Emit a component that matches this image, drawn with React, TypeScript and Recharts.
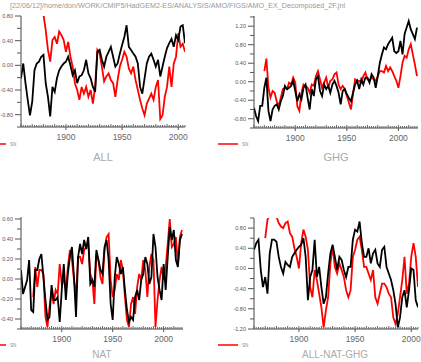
import { LineChart, Line, XAxis, YAxis } from "recharts";

const STEP = 2;
const FONT = "'Liberation Sans', Arial, sans-serif";
const HEADER = "[22/06/12]/home/don/WORK/CMIP5/HadGEM2-ES/ANALYSIS/AMO/FIGS/AMO_EX_Decomposed_2F.jnl";

// ALL
const ALL_START = 1860;
const ALL_BLACK = [
  -0.21, 0.03, -0.29, -0.56, -0.81, -0.59, -0.08, 0.03, 0.06, 0.14,
  0.17, -0.29, -0.51, -0.83, -0.35, -0.43, -0.21, -0.08, -0.02, 0.03,
  0.06, 0.14, 0.0, -0.16, -0.08, -0.29, -0.18, -0.16, -0.08, 0.09,
  -0.13, -0.21, -0.35, -0.43, 0.22, 0.25, 0.09, -0.02, 0.14, 0.22,
  0.3, 0.14, -0.02, 0.03, 0.19, 0.33, 0.46, 0.65, 0.3, 0.25,
  0.19, 0.14, 0.03, -0.35, -0.46, -0.21, 0.03, 0.14, 0.19, 0.09,
  -0.02, 0.09, -0.18, -0.02, 0.14, 0.28, 0.36, 0.43, 0.3, 0.49,
  0.41, 0.63, 0.65, 0.36,
];
const ALL_RED_START = 1880;
const ALL_RED = [
  0.82, 0.57, 0.25, 0.06, 0.41, 0.46, 0.35, 0.55, 0.49, 0.41,
  0.22, 0.38, 0.14, -0.02, -0.29, -0.4, -0.56, -0.35, -0.46, -0.35,
  -0.51, -0.4, -0.62, -0.35, 0.25, 0.19, -0.02, -0.26, -0.18, -0.13,
  -0.24, -0.29, -0.51, -0.24, -0.02, 0.09, 0.22, 0.14, -0.05, -0.13,
  -0.02, -0.24, -0.4, -0.56, -0.7, -0.81, -0.62, -0.54, -0.46, -0.56,
  -0.35, -0.24, -0.87, -0.81, -0.51, -0.35, -0.02, -0.35, 0.03, 0.14,
  0.52, 0.3, 0.35, 0.22,
];

// GHG
const GHG_START = 1860;
const GHG_BLACK = [
  -0.56, -0.74, -0.85, -0.52, -0.52, -0.13, 0.09, -0.63, -0.85, -0.6,
  -0.52, -0.49, -0.6, -0.42, -0.31, -0.09, -0.16, -0.13, -0.09, 0.02,
  -0.2, -0.42, -0.27, -0.38, -0.13, -0.06, -0.35, -0.6, -0.16, -0.31,
  0.05, 0.12, -0.2, -0.31, -0.06, -0.16, -0.09, -0.24, -0.06, 0.02,
  -0.09, -0.24, -0.49, -0.2, -0.16, -0.27, -0.35, -0.42, -0.24, -0.06,
  0.02, -0.16, 0.05, -0.06, 0.09, 0.09, -0.02, 0.16, 0.09, -0.13,
  0.12, 0.41, 0.59, 0.74, 0.7, 0.81, 0.88, 0.95, 0.66, 0.62,
  0.66, 0.88, 0.59, 1.03, 1.17, 1.31, 1.13, 1.03, 0.92, 1.17,
];
const GHG_RED_START = 1870;
const GHG_RED = [
  0.23, 0.5, -0.13, -0.34, -0.2, -0.24, -0.42, -0.53, -0.34, -0.16,
  -0.13, -0.16, -0.02, -0.06, 0.09, -0.02, -0.53, -0.63, -0.24, -0.06,
  -0.09, -0.13, -0.24, -0.06, -0.09, 0.12, 0.23, 0.05, -0.13, -0.02,
  0.09, -0.13, 0.02, 0.05, 0.16, 0.2, -0.06, -0.16, -0.09, -0.16,
  -0.31, -0.45, -0.6, -0.27, 0.05, 0.02, 0.02, -0.02, 0.12, 0.2,
  0.05, 0.02, 0.09, 0.05, 0.02, 0.12, 0.23, 0.23, 0.2, 0.34,
  0.23, 0.31, 0.23, 0.12, 0.02, -0.13, 0.12, 0.41, 0.56, 0.52,
  0.7, 0.81, 0.59, 0.37, 0.12,
];

// NAT
const NAT_START = 1860;
const NAT_BLACK = [
  0.09, -0.15, -0.08, -0.01, 0.19, -0.31, -0.33, 0.09, 0.09, 0.2,
  0.25, 0.02, -0.21, -0.41, -0.38, -0.06, -0.21, -0.21, -0.18, -0.43,
  -0.11, 0.15, -0.21, 0.05, 0.22, 0.32, 0.02, -0.38, 0.22, 0.35,
  0.25, 0.39, 0.3, 0.42, -0.05, -0.01, -0.08, 0.29, 0.19, 0.09,
  0.05, 0.32, 0.39, 0.19, -0.25, -0.41, 0.02, 0.22, 0.15, 0.05,
  0.12, -0.11, -0.31, -0.43, -0.38, -0.41, -0.18, -0.11, -0.21, -0.01,
  0.05, 0.22, 0.15, -0.05, 0.02, 0.45, 0.32, 0.02, -0.11, -0.21,
  0.15, -0.11, 0.22, 0.52, 0.39, 0.49, 0.19, 0.12, 0.39, 0.45,
];
const NAT_RED_START = 1872;
const NAT_RED = [
  -0.18, 0.12, -0.08, 0.09, 0.09, 0.05, -0.38, -0.48, -0.28, -0.11,
  -0.25, -0.11, -0.15, 0.15, -0.05, -0.01, -0.11, 0.12, 0.29, 0.19,
  -0.01, -0.18, 0.22, 0.22, 0.15, 0.29, 0.32, 0.37, 0.05, -0.01,
  -0.25, 0.25, 0.19, 0.02, -0.05, 0.29, 0.42, 0.45, -0.01, -0.18,
  -0.11, 0.05, -0.01, 0.19, 0.09, -0.18, -0.41, -0.48, -0.25, -0.18,
  -0.35, -0.08, 0.05, -0.01, 0.19, 0.09, -0.18, 0.12, 0.25, 0.19,
  -0.48, -0.21, -0.01, 0.12, -0.01, 0.12, 0.35, 0.6, 0.32, 0.35,
  0.42, 0.15, 0.42, 0.49,
];

// ALL-NAT-GHG
const RES_START = 1860;
const RES_BLACK = [
  0.37, 0.5, 0.57, -0.03, -0.37, -0.17, -0.5, 0.3, 0.57, 0.57,
  0.53, 0.23, 0.03, -0.1, 0.13, 0.07, 0.03, 0.23, 0.3, 0.37,
  0.43, 0.47, 0.6, 0.23, -0.63, -0.17, -0.03, 0.57, -0.17, 0.03,
  -0.37, -0.7, -0.57, -0.1, 0.3, 0.47, 0.23, -0.03, 0.23, 0.17,
  -0.03, -0.17, 0.03, 0.03, 0.57, 0.77, 0.73, 0.93, 0.5, 0.23,
  0.23, 0.4, 0.1, 0.3, 0.37, 0.1, 0.03, 0.37, 0.43, 0.03,
  -0.1, -0.23, -0.43, -0.7, -1.17, -0.97, -0.57, -0.43, -0.77, -0.43,
  0.0, -0.03, -0.63, -0.77,
];
const RES_RED_START = 1870;
const RES_RED = [
  0.6, 0.97, 1.05, 1.05, 1.1, 1.03, 0.9, 0.83, 0.8, 0.9,
  0.93, 0.7, 0.63, 0.4, 0.23, 0.0, 0.5, 0.77, 0.63, 0.37,
  -0.37, -0.57, -0.03, -0.23, -0.5, -0.77, -1.17, -0.83, -0.57, 0.1,
  0.43, 0.03, -0.1, 0.1, -0.03, -0.17, -0.43, -0.57, -0.43, 0.23,
  0.37, 0.57, 0.63, 0.37, 0.03, 0.03, -0.1, -0.23, -0.03, -0.57,
  -0.7, -0.5, -0.3, -0.3, -0.37, -0.5, -0.57, -0.97, -1.1, -0.9,
  -0.57, -0.23, 0.23, -0.5, -0.3, 0.23, 0.5, 0.23, -0.37,
];

type Row = { year: number; black: number | null; red: number | null };

function buildRows(start: number, black: number[], redStart: number, red: number[]): Row[] {
  return black.map((b, i) => {
    const year = start + i * STEP;
    const j = (year - redStart) / STEP;
    return { year, black: b, red: j >= 0 && j < red.length ? red[j] : null };
  });
}

function range(a: number, b: number, s: number) {
  const out: number[] = [];
  for (let v = a; v <= b + 1e-9; v += s) out.push(Math.round(v * 100) / 100);
  return out;
}

const isMult = (v: number, s: number) => Math.abs(v / s - Math.round(v / s)) < 1e-6;

type PanelProps = {
  px: number;
  py: number;
  pw: number;
  ph: number;
  rows: Row[];
  xDomain: [number, number];
  yDomain: [number, number];
  yMinor: number;
  yLabel: number;
};

function Panel({ px, py, pw, ph, rows, xDomain, yDomain, yMinor, yLabel }: PanelProps) {
  const xTicks = range(Math.ceil(xDomain[0] / 2) * 2, xDomain[1], 2);
  const yTicks = range(Math.ceil(yDomain[0] / yMinor - 1e-6) * yMinor, yDomain[1], yMinor);

  const bottomTick = (p: any) => {
    const { x, y, payload } = p;
    const v = payload.value;
    const big = v % 50 === 0;
    return (
      <g>
        <line x1={x} x2={x} y1={y} y2={y - (v % 10 === 0 ? 3 : 2)} stroke="#666" />
        {big && <line x1={x} x2={x} y1={y} y2={y + 3} stroke="#555" />}
        {big && (
          <text x={x} y={y + 13} textAnchor="middle" fontSize={8.5} fill="#666" fontFamily={FONT}>
            {v}
          </text>
        )}
      </g>
    );
  };
  const topTick = (p: any) => {
    const { x, y, payload } = p;
    const v = payload.value;
    return (
      <g>
        <line x1={x} x2={x} y1={y} y2={y + (v % 10 === 0 ? 3 : 2)} stroke="#999" />
        {v % 50 === 0 && <line x1={x} x2={x} y1={y} y2={y - 3} stroke="#999" />}
      </g>
    );
  };
  const leftTick = (p: any) => {
    const { x, y, payload } = p;
    const v = payload.value;
    const lab = isMult(v, yLabel);
    return (
      <g>
        <line x1={x - (lab ? 6 : 4)} x2={x} y1={y} y2={y} stroke="#555" />
        {lab && (
          <text x={x - 8} y={y + 2} textAnchor="end" fontSize={5.5} fill="#555" fontFamily={FONT}>
            {v.toFixed(2)}
          </text>
        )}
      </g>
    );
  };
  const rightTick = (p: any) => {
    const { x, y, payload } = p;
    const lab = isMult(payload.value, yLabel);
    return (
      <g>
        <line x1={x} x2={x + (lab ? 5 : 3)} y1={y} y2={y} stroke="#aaa" />
      </g>
    );
  };

  return (
    <div style={{ position: "absolute", left: px - 30, top: py - 6 }}>
      <LineChart
        width={pw + 30 + 8}
        height={ph + 6 + 20}
        data={rows}
        margin={{ top: 6, right: 8, bottom: 0, left: 0 }}
      >
        <XAxis
          xAxisId="b"
          dataKey="year"
          type="number"
          domain={xDomain}
          allowDataOverflow
          ticks={xTicks}
          interval={0}
          height={20}
          tickSize={0}
          tickMargin={0}
          tickLine={false}
          tick={bottomTick}
          axisLine={{ stroke: "#444" }}
        />
        <XAxis
          xAxisId="t"
          orientation="top"
          dataKey="year"
          type="number"
          domain={xDomain}
          allowDataOverflow
          ticks={xTicks}
          interval={0}
          height={0}
          tickSize={0}
          tickMargin={0}
          tickLine={false}
          tick={topTick}
          axisLine={{ stroke: "#999" }}
        />
        <YAxis
          yAxisId="l"
          type="number"
          domain={yDomain}
          allowDataOverflow
          ticks={yTicks}
          interval={0}
          width={30}
          tickSize={0}
          tickMargin={0}
          tickLine={false}
          tick={leftTick}
          axisLine={{ stroke: "#444" }}
        />
        <YAxis
          yAxisId="r"
          orientation="right"
          type="number"
          domain={yDomain}
          allowDataOverflow
          ticks={yTicks}
          interval={0}
          width={0}
          tickSize={0}
          tickMargin={0}
          tickLine={false}
          tick={rightTick}
          axisLine={{ stroke: "#ccc", strokeWidth: 2 }}
        />
        <Line
          xAxisId="b"
          yAxisId="l"
          dataKey="red"
          stroke="#ff0000"
          strokeWidth={1.8}
          dot={false}
          type="linear"
          isAnimationActive={false}
        />
        <Line
          xAxisId="b"
          yAxisId="l"
          dataKey="black"
          stroke="#000"
          strokeWidth={1.8}
          dot={false}
          type="linear"
          isAnimationActive={false}
        />
      </LineChart>
    </div>
  );
}

function Legend({ x1, x2, y }: { x1: number; x2: number; y: number }) {
  return (
    <g>
      <line x1={x1} x2={x2} y1={y} y2={y} stroke="#ff0000" strokeWidth={1.5} />
      <text x={x2 + 4} y={y + 2} fontSize={4.5} fill="#888" fontFamily={FONT}>
        SN
      </text>
    </g>
  );
}

export default function App() {
  const allRows = buildRows(ALL_START, ALL_BLACK, ALL_RED_START, ALL_RED);
  const ghgRows = buildRows(GHG_START, GHG_BLACK, GHG_RED_START, GHG_RED);
  const natRows = buildRows(NAT_START, NAT_BLACK, NAT_RED_START, NAT_RED);
  const resRows = buildRows(RES_START, RES_BLACK, RES_RED_START, RES_RED);

  return (
    <div
      style={{
        position: "absolute",
        left: 0,
        top: 0,
        width: 421,
        height: 362,
        background: "#fff",
        overflow: "hidden",
      }}
    >
      <Panel px={21} py={16} pw={164} ph={111} rows={allRows} xDomain={[1860, 2006]} yDomain={[-1.0, 0.8]} yMinor={0.2} yLabel={0.4} />
      <Panel px={254} py={16} pw={164} ph={112} rows={ghgRows} xDomain={[1860, 2019]} yDomain={[-1.0, 1.42]} yMinor={0.2} yLabel={0.4} />
      <Panel px={21} py={217} pw={162} ph={112} rows={natRows} xDomain={[1860, 2019]} yDomain={[-0.5, 0.62]} yMinor={0.1} yLabel={0.2} />
      <Panel px={254} py={218} pw={164} ph={111} rows={resRows} xDomain={[1860, 2006]} yDomain={[-1.2, 1.0]} yMinor={0.2} yLabel={0.4} />
      <svg width={421} height={362} style={{ position: "absolute", left: 0, top: 0, pointerEvents: "none" }}>
        <text x={10} y={8} fontSize={7.5} fill="#999" fontFamily={FONT} textLength={335} lengthAdjust="spacingAndGlyphs">
          {HEADER}
        </text>
        <text x={103} y={161} textAnchor="middle" fontSize={11} fill="#aaa" fontFamily={FONT}>ALL</text>
        <text x={336} y={161} textAnchor="middle" fontSize={11} fill="#aaa" fontFamily={FONT}>GHG</text>
        <text x={102} y={358} textAnchor="middle" fontSize={10} fill="#aaa" fontFamily={FONT}>NAT</text>
        <text x={335} y={358} textAnchor="middle" fontSize={10} fill="#aaa" fontFamily={FONT}>ALL-NAT-GHG</text>
        <Legend x1={-14} x2={6} y={144} />
        <Legend x1={218} x2={238} y={144} />
        <Legend x1={-14} x2={6} y={345} />
        <Legend x1={218} x2={238} y={345} />
      </svg>
    </div>
  );
}
